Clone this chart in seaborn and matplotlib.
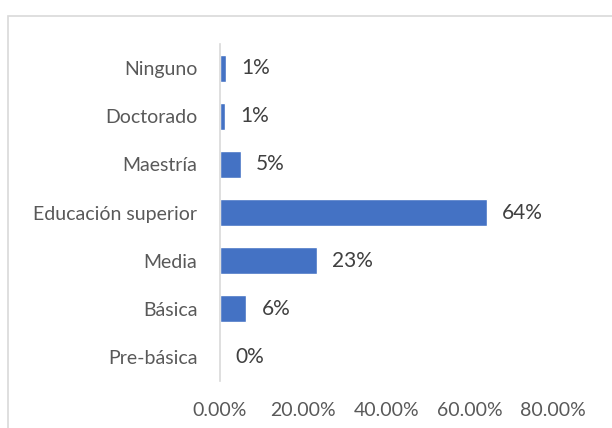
import matplotlib
matplotlib.use("Agg")
import matplotlib.pyplot as plt
import seaborn as sns
import pandas as pd
from matplotlib.patches import Rectangle
from matplotlib.ticker import FuncFormatter

# values (share of respondents)
niveles = ["Ninguno", "Doctorado", "Maestría", "Educación superior",
           "Media", "Básica", "Pre-básica"]
porcentajes = [0.014, 0.012, 0.050, 0.641, 0.233, 0.064, 0.0]
etiquetas = ["1%", "1%", "5%", "64%", "23%", "6%", "0%"]
ticks_x = [0.0, 0.2, 0.4, 0.6, 0.8]

sns.set_theme(style="white")
plt.rcParams["font.family"] = ["Lato", "DejaVu Sans"]

df = pd.DataFrame({"nivel": niveles, "pct": porcentajes})

fig = plt.figure(figsize=(6.12, 4.28), dpi=100)
ax = fig.add_axes([0.359, 0.110, 0.545, 0.787])

sns.barplot(data=df, y="nivel", x="pct", color="#4472C4", width=0.56,
            saturation=1, ax=ax)
ax.bar_label(ax.containers[0], labels=etiquetas, padding=11,
             fontsize=15, color="#404040")

ax.set_xlim(0, 0.8)
ax.set_xticks(ticks_x)
ax.xaxis.set_major_formatter(FuncFormatter(lambda v, _: f"{v * 100:.2f}%"))
ax.set_xlabel("")
ax.set_ylabel("")
ax.tick_params(axis="x", length=0, pad=15, labelsize=14, labelcolor="#595959")
ax.tick_params(axis="y", length=0, pad=16, labelsize=14, labelcolor="#595959")

sns.despine(ax=ax, top=True, right=True, bottom=True, left=False)
ax.spines["left"].set_color("#D9D9D9")
ax.spines["left"].set_linewidth(1.2)

# chart-area border, cropped on the right and bottom like the reference
fig.add_artist(Rectangle((8 / 612, -0.05), 1.05, 1 - 16 / 428 + 0.05,
                         transform=fig.transFigure, fill=False,
                         edgecolor="#D9D9D9", linewidth=1.2))

fig.savefig("out.png", dpi=100)
